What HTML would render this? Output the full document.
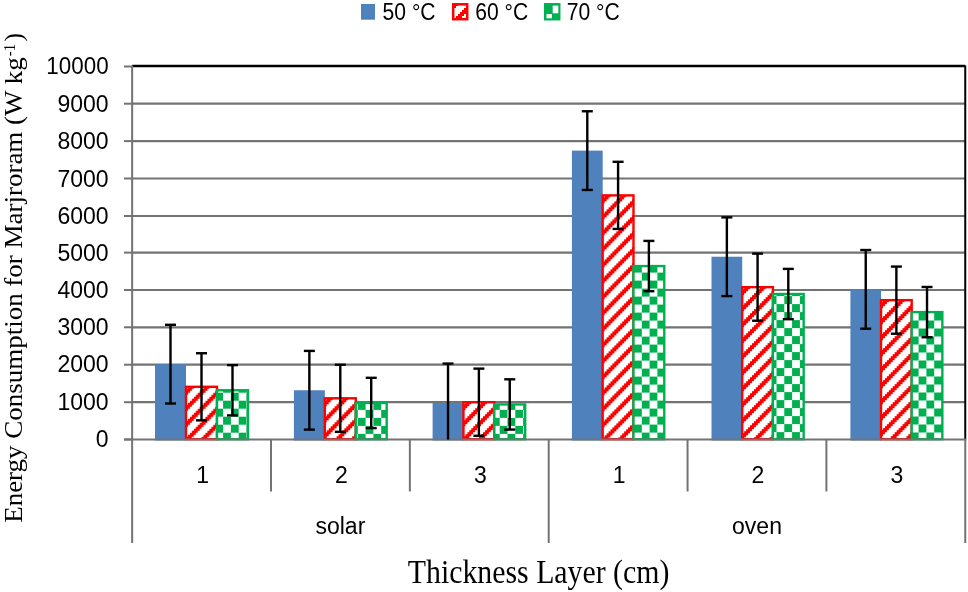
<!DOCTYPE html><html><head><meta charset="utf-8"><style>html,body{margin:0;padding:0;background:#fff;}svg{display:block;will-change:transform;}</style></head><body>
<svg width="968" height="592" viewBox="0 0 968 592">
<defs>
<pattern id="stripe" patternUnits="userSpaceOnUse" width="16" height="16"><rect width="16" height="16" fill="#fff"/><g fill="#ff0000" shape-rendering="crispEdges"><rect x="0" y="0" width="2" height="2"/><rect x="2" y="0" width="2" height="2"/><rect x="4" y="0" width="2" height="2"/><rect x="14" y="2" width="2" height="2"/><rect x="0" y="2" width="2" height="2"/><rect x="2" y="2" width="2" height="2"/><rect x="12" y="4" width="2" height="2"/><rect x="14" y="4" width="2" height="2"/><rect x="0" y="4" width="2" height="2"/><rect x="10" y="6" width="2" height="2"/><rect x="12" y="6" width="2" height="2"/><rect x="14" y="6" width="2" height="2"/><rect x="8" y="8" width="2" height="2"/><rect x="10" y="8" width="2" height="2"/><rect x="12" y="8" width="2" height="2"/><rect x="6" y="10" width="2" height="2"/><rect x="8" y="10" width="2" height="2"/><rect x="10" y="10" width="2" height="2"/><rect x="4" y="12" width="2" height="2"/><rect x="6" y="12" width="2" height="2"/><rect x="8" y="12" width="2" height="2"/><rect x="2" y="14" width="2" height="2"/><rect x="4" y="14" width="2" height="2"/><rect x="6" y="14" width="2" height="2"/></g></pattern>
<pattern id="check" patternUnits="userSpaceOnUse" width="16" height="16" patternTransform="translate(0,0.5)"><rect width="16" height="16" fill="#fff"/><g shape-rendering="crispEdges"><rect x="0" y="0" width="8" height="8" fill="#00b050"/><rect x="8" y="8" width="8" height="8" fill="#00b050"/></g></pattern>
</defs>
<rect width="968" height="592" fill="#fff"/>
<line x1="132.15" y1="103.7" x2="965.25" y2="103.7" stroke="#737373" stroke-width="2.2"/>
<line x1="132.15" y1="141.1" x2="965.25" y2="141.1" stroke="#737373" stroke-width="2.2"/>
<line x1="132.15" y1="178.5" x2="965.25" y2="178.5" stroke="#737373" stroke-width="2.2"/>
<line x1="132.15" y1="216.0" x2="965.25" y2="216.0" stroke="#737373" stroke-width="2.2"/>
<line x1="132.15" y1="252.6" x2="965.25" y2="252.6" stroke="#737373" stroke-width="2.2"/>
<line x1="132.15" y1="290.0" x2="965.25" y2="290.0" stroke="#737373" stroke-width="2.2"/>
<line x1="132.15" y1="327.3" x2="965.25" y2="327.3" stroke="#737373" stroke-width="2.2"/>
<line x1="132.15" y1="364.7" x2="965.25" y2="364.7" stroke="#737373" stroke-width="2.2"/>
<line x1="132.15" y1="402.2" x2="965.25" y2="402.2" stroke="#737373" stroke-width="2.2"/>
<line x1="124" y1="66.5" x2="132.15" y2="66.5" stroke="#737373" stroke-width="2"/>
<line x1="124" y1="103.7" x2="132.15" y2="103.7" stroke="#737373" stroke-width="2"/>
<line x1="124" y1="141.1" x2="132.15" y2="141.1" stroke="#737373" stroke-width="2"/>
<line x1="124" y1="178.5" x2="132.15" y2="178.5" stroke="#737373" stroke-width="2"/>
<line x1="124" y1="216.0" x2="132.15" y2="216.0" stroke="#737373" stroke-width="2"/>
<line x1="124" y1="252.6" x2="132.15" y2="252.6" stroke="#737373" stroke-width="2"/>
<line x1="124" y1="290.0" x2="132.15" y2="290.0" stroke="#737373" stroke-width="2"/>
<line x1="124" y1="327.3" x2="132.15" y2="327.3" stroke="#737373" stroke-width="2"/>
<line x1="124" y1="364.7" x2="132.15" y2="364.7" stroke="#737373" stroke-width="2"/>
<line x1="124" y1="402.2" x2="132.15" y2="402.2" stroke="#737373" stroke-width="2"/>
<line x1="124" y1="439.5" x2="132.15" y2="439.5" stroke="#737373" stroke-width="2"/>
<pattern id="st0" patternUnits="userSpaceOnUse" width="15.6" height="16.0" patternTransform="translate(186.00,386.80)"><rect width="15.6" height="16.0" fill="#fff"/><g fill="#ff0000"><rect x="1.95" y="0.00" width="1.97" height="2.0"/><rect x="3.90" y="0.00" width="1.97" height="2.0"/><rect x="5.85" y="0.00" width="1.97" height="2.0"/><rect x="0.00" y="2.00" width="1.97" height="2.0"/><rect x="1.95" y="2.00" width="1.97" height="2.0"/><rect x="3.90" y="2.00" width="1.97" height="2.0"/><rect x="13.65" y="4.00" width="1.97" height="2.0"/><rect x="0.00" y="4.00" width="1.97" height="2.0"/><rect x="1.95" y="4.00" width="1.97" height="2.0"/><rect x="11.70" y="6.00" width="1.97" height="2.0"/><rect x="13.65" y="6.00" width="1.97" height="2.0"/><rect x="0.00" y="6.00" width="1.97" height="2.0"/><rect x="9.75" y="8.00" width="1.97" height="2.0"/><rect x="11.70" y="8.00" width="1.97" height="2.0"/><rect x="13.65" y="8.00" width="1.97" height="2.0"/><rect x="7.80" y="10.00" width="1.97" height="2.0"/><rect x="9.75" y="10.00" width="1.97" height="2.0"/><rect x="11.70" y="10.00" width="1.97" height="2.0"/><rect x="5.85" y="12.00" width="1.97" height="2.0"/><rect x="7.80" y="12.00" width="1.97" height="2.0"/><rect x="9.75" y="12.00" width="1.97" height="2.0"/><rect x="3.90" y="14.00" width="1.97" height="2.0"/><rect x="5.85" y="14.00" width="1.97" height="2.0"/><rect x="7.80" y="14.00" width="1.97" height="2.0"/></g></pattern>
<pattern id="ck0" patternUnits="userSpaceOnUse" width="15.6" height="16" patternTransform="translate(215.30,392.70)"><rect width="15.6" height="16" fill="#fff"/><rect x="0" y="0" width="7.8" height="8" fill="#00b050"/><rect x="7.8" y="8" width="7.8" height="8" fill="#00b050"/></pattern>
<rect x="155.00" y="364.15" width="31.00" height="76.35" fill="#4f81bd"/>
<rect x="186.00" y="386.80" width="31.00" height="52.40" fill="url(#st0)" stroke="#ff0000" stroke-width="2.4"/>
<rect x="217.00" y="390.26" width="31.00" height="48.94" fill="url(#ck0)" stroke="#00b050" stroke-width="2.4"/>
<pattern id="st1" patternUnits="userSpaceOnUse" width="15.6" height="16.0" patternTransform="translate(324.83,398.28)"><rect width="15.6" height="16.0" fill="#fff"/><g fill="#ff0000"><rect x="1.95" y="0.00" width="1.97" height="2.0"/><rect x="3.90" y="0.00" width="1.97" height="2.0"/><rect x="5.85" y="0.00" width="1.97" height="2.0"/><rect x="0.00" y="2.00" width="1.97" height="2.0"/><rect x="1.95" y="2.00" width="1.97" height="2.0"/><rect x="3.90" y="2.00" width="1.97" height="2.0"/><rect x="13.65" y="4.00" width="1.97" height="2.0"/><rect x="0.00" y="4.00" width="1.97" height="2.0"/><rect x="1.95" y="4.00" width="1.97" height="2.0"/><rect x="11.70" y="6.00" width="1.97" height="2.0"/><rect x="13.65" y="6.00" width="1.97" height="2.0"/><rect x="0.00" y="6.00" width="1.97" height="2.0"/><rect x="9.75" y="8.00" width="1.97" height="2.0"/><rect x="11.70" y="8.00" width="1.97" height="2.0"/><rect x="13.65" y="8.00" width="1.97" height="2.0"/><rect x="7.80" y="10.00" width="1.97" height="2.0"/><rect x="9.75" y="10.00" width="1.97" height="2.0"/><rect x="11.70" y="10.00" width="1.97" height="2.0"/><rect x="5.85" y="12.00" width="1.97" height="2.0"/><rect x="7.80" y="12.00" width="1.97" height="2.0"/><rect x="9.75" y="12.00" width="1.97" height="2.0"/><rect x="3.90" y="14.00" width="1.97" height="2.0"/><rect x="5.85" y="14.00" width="1.97" height="2.0"/><rect x="7.80" y="14.00" width="1.97" height="2.0"/></g></pattern>
<pattern id="ck1" patternUnits="userSpaceOnUse" width="15.6" height="16" patternTransform="translate(357.80,401.90)"><rect width="15.6" height="16" fill="#fff"/><rect x="0" y="0" width="7.8" height="8" fill="#00b050"/><rect x="7.8" y="8" width="7.8" height="8" fill="#00b050"/></pattern>
<rect x="293.90" y="390.26" width="30.93" height="50.24" fill="#4f81bd"/>
<rect x="324.83" y="398.28" width="30.93" height="40.92" fill="url(#st1)" stroke="#ff0000" stroke-width="2.4"/>
<rect x="355.76" y="402.95" width="30.93" height="36.25" fill="url(#ck1)" stroke="#00b050" stroke-width="2.4"/>
<pattern id="st2" patternUnits="userSpaceOnUse" width="15.6" height="16.0" patternTransform="translate(463.46,402.20)"><rect width="15.6" height="16.0" fill="#fff"/><g fill="#ff0000"><rect x="1.95" y="0.00" width="1.97" height="2.0"/><rect x="3.90" y="0.00" width="1.97" height="2.0"/><rect x="5.85" y="0.00" width="1.97" height="2.0"/><rect x="0.00" y="2.00" width="1.97" height="2.0"/><rect x="1.95" y="2.00" width="1.97" height="2.0"/><rect x="3.90" y="2.00" width="1.97" height="2.0"/><rect x="13.65" y="4.00" width="1.97" height="2.0"/><rect x="0.00" y="4.00" width="1.97" height="2.0"/><rect x="1.95" y="4.00" width="1.97" height="2.0"/><rect x="11.70" y="6.00" width="1.97" height="2.0"/><rect x="13.65" y="6.00" width="1.97" height="2.0"/><rect x="0.00" y="6.00" width="1.97" height="2.0"/><rect x="9.75" y="8.00" width="1.97" height="2.0"/><rect x="11.70" y="8.00" width="1.97" height="2.0"/><rect x="13.65" y="8.00" width="1.97" height="2.0"/><rect x="7.80" y="10.00" width="1.97" height="2.0"/><rect x="9.75" y="10.00" width="1.97" height="2.0"/><rect x="11.70" y="10.00" width="1.97" height="2.0"/><rect x="5.85" y="12.00" width="1.97" height="2.0"/><rect x="7.80" y="12.00" width="1.97" height="2.0"/><rect x="9.75" y="12.00" width="1.97" height="2.0"/><rect x="3.90" y="14.00" width="1.97" height="2.0"/><rect x="5.85" y="14.00" width="1.97" height="2.0"/><rect x="7.80" y="14.00" width="1.97" height="2.0"/></g></pattern>
<pattern id="ck2" patternUnits="userSpaceOnUse" width="15.6" height="16" patternTransform="translate(491.90,401.90)"><rect width="15.6" height="16" fill="#fff"/><rect x="0" y="0" width="7.8" height="8" fill="#00b050"/><rect x="7.8" y="8" width="7.8" height="8" fill="#00b050"/></pattern>
<rect x="432.60" y="402.95" width="30.86" height="37.55" fill="#4f81bd"/>
<rect x="463.46" y="402.20" width="30.86" height="37.00" fill="url(#st2)" stroke="#ff0000" stroke-width="2.4"/>
<rect x="494.32" y="404.44" width="30.86" height="34.76" fill="url(#ck2)" stroke="#00b050" stroke-width="2.4"/>
<pattern id="st3" patternUnits="userSpaceOnUse" width="15.6" height="16.0" patternTransform="translate(602.69,195.37)"><rect width="15.6" height="16.0" fill="#fff"/><g fill="#ff0000"><rect x="1.95" y="0.00" width="1.97" height="2.0"/><rect x="3.90" y="0.00" width="1.97" height="2.0"/><rect x="5.85" y="0.00" width="1.97" height="2.0"/><rect x="0.00" y="2.00" width="1.97" height="2.0"/><rect x="1.95" y="2.00" width="1.97" height="2.0"/><rect x="3.90" y="2.00" width="1.97" height="2.0"/><rect x="13.65" y="4.00" width="1.97" height="2.0"/><rect x="0.00" y="4.00" width="1.97" height="2.0"/><rect x="1.95" y="4.00" width="1.97" height="2.0"/><rect x="11.70" y="6.00" width="1.97" height="2.0"/><rect x="13.65" y="6.00" width="1.97" height="2.0"/><rect x="0.00" y="6.00" width="1.97" height="2.0"/><rect x="9.75" y="8.00" width="1.97" height="2.0"/><rect x="11.70" y="8.00" width="1.97" height="2.0"/><rect x="13.65" y="8.00" width="1.97" height="2.0"/><rect x="7.80" y="10.00" width="1.97" height="2.0"/><rect x="9.75" y="10.00" width="1.97" height="2.0"/><rect x="11.70" y="10.00" width="1.97" height="2.0"/><rect x="5.85" y="12.00" width="1.97" height="2.0"/><rect x="7.80" y="12.00" width="1.97" height="2.0"/><rect x="9.75" y="12.00" width="1.97" height="2.0"/><rect x="3.90" y="14.00" width="1.97" height="2.0"/><rect x="5.85" y="14.00" width="1.97" height="2.0"/><rect x="7.80" y="14.00" width="1.97" height="2.0"/></g></pattern>
<pattern id="ck3" patternUnits="userSpaceOnUse" width="15.6" height="16" patternTransform="translate(634.00,264.60)"><rect width="15.6" height="16" fill="#fff"/><rect x="0" y="0" width="7.8" height="8" fill="#00b050"/><rect x="7.8" y="8" width="7.8" height="8" fill="#00b050"/></pattern>
<rect x="571.90" y="150.61" width="30.79" height="289.89" fill="#4f81bd"/>
<rect x="602.69" y="195.37" width="30.79" height="243.83" fill="url(#st3)" stroke="#ff0000" stroke-width="2.4"/>
<rect x="633.48" y="266.06" width="30.79" height="173.14" fill="url(#ck3)" stroke="#00b050" stroke-width="2.4"/>
<pattern id="st4" patternUnits="userSpaceOnUse" width="15.6" height="16.0" patternTransform="translate(742.22,287.17)"><rect width="15.6" height="16.0" fill="#fff"/><g fill="#ff0000"><rect x="1.95" y="0.00" width="1.97" height="2.0"/><rect x="3.90" y="0.00" width="1.97" height="2.0"/><rect x="5.85" y="0.00" width="1.97" height="2.0"/><rect x="0.00" y="2.00" width="1.97" height="2.0"/><rect x="1.95" y="2.00" width="1.97" height="2.0"/><rect x="3.90" y="2.00" width="1.97" height="2.0"/><rect x="13.65" y="4.00" width="1.97" height="2.0"/><rect x="0.00" y="4.00" width="1.97" height="2.0"/><rect x="1.95" y="4.00" width="1.97" height="2.0"/><rect x="11.70" y="6.00" width="1.97" height="2.0"/><rect x="13.65" y="6.00" width="1.97" height="2.0"/><rect x="0.00" y="6.00" width="1.97" height="2.0"/><rect x="9.75" y="8.00" width="1.97" height="2.0"/><rect x="11.70" y="8.00" width="1.97" height="2.0"/><rect x="13.65" y="8.00" width="1.97" height="2.0"/><rect x="7.80" y="10.00" width="1.97" height="2.0"/><rect x="9.75" y="10.00" width="1.97" height="2.0"/><rect x="11.70" y="10.00" width="1.97" height="2.0"/><rect x="5.85" y="12.00" width="1.97" height="2.0"/><rect x="7.80" y="12.00" width="1.97" height="2.0"/><rect x="9.75" y="12.00" width="1.97" height="2.0"/><rect x="3.90" y="14.00" width="1.97" height="2.0"/><rect x="5.85" y="14.00" width="1.97" height="2.0"/><rect x="7.80" y="14.00" width="1.97" height="2.0"/></g></pattern>
<pattern id="ck4" patternUnits="userSpaceOnUse" width="15.6" height="16" patternTransform="translate(768.70,296.10)"><rect width="15.6" height="16" fill="#fff"/><rect x="0" y="0" width="7.8" height="8" fill="#00b050"/><rect x="7.8" y="8" width="7.8" height="8" fill="#00b050"/></pattern>
<rect x="711.50" y="256.73" width="30.72" height="183.77" fill="#4f81bd"/>
<rect x="742.22" y="287.17" width="30.72" height="152.03" fill="url(#st4)" stroke="#ff0000" stroke-width="2.4"/>
<rect x="772.94" y="294.03" width="30.72" height="145.17" fill="url(#ck4)" stroke="#00b050" stroke-width="2.4"/>
<pattern id="st5" patternUnits="userSpaceOnUse" width="15.6" height="16.0" patternTransform="translate(881.05,300.15)"><rect width="15.6" height="16.0" fill="#fff"/><g fill="#ff0000"><rect x="1.95" y="0.00" width="1.97" height="2.0"/><rect x="3.90" y="0.00" width="1.97" height="2.0"/><rect x="5.85" y="0.00" width="1.97" height="2.0"/><rect x="0.00" y="2.00" width="1.97" height="2.0"/><rect x="1.95" y="2.00" width="1.97" height="2.0"/><rect x="3.90" y="2.00" width="1.97" height="2.0"/><rect x="13.65" y="4.00" width="1.97" height="2.0"/><rect x="0.00" y="4.00" width="1.97" height="2.0"/><rect x="1.95" y="4.00" width="1.97" height="2.0"/><rect x="11.70" y="6.00" width="1.97" height="2.0"/><rect x="13.65" y="6.00" width="1.97" height="2.0"/><rect x="0.00" y="6.00" width="1.97" height="2.0"/><rect x="9.75" y="8.00" width="1.97" height="2.0"/><rect x="11.70" y="8.00" width="1.97" height="2.0"/><rect x="13.65" y="8.00" width="1.97" height="2.0"/><rect x="7.80" y="10.00" width="1.97" height="2.0"/><rect x="9.75" y="10.00" width="1.97" height="2.0"/><rect x="11.70" y="10.00" width="1.97" height="2.0"/><rect x="5.85" y="12.00" width="1.97" height="2.0"/><rect x="7.80" y="12.00" width="1.97" height="2.0"/><rect x="9.75" y="12.00" width="1.97" height="2.0"/><rect x="3.90" y="14.00" width="1.97" height="2.0"/><rect x="5.85" y="14.00" width="1.97" height="2.0"/><rect x="7.80" y="14.00" width="1.97" height="2.0"/></g></pattern>
<pattern id="ck5" patternUnits="userSpaceOnUse" width="15.6" height="16" patternTransform="translate(910.80,320.50)"><rect width="15.6" height="16" fill="#fff"/><rect x="0" y="0" width="7.8" height="8" fill="#00b050"/><rect x="7.8" y="8" width="7.8" height="8" fill="#00b050"/></pattern>
<rect x="850.40" y="289.37" width="30.65" height="151.13" fill="#4f81bd"/>
<rect x="881.05" y="300.15" width="30.65" height="139.05" fill="url(#st5)" stroke="#ff0000" stroke-width="2.4"/>
<rect x="911.70" y="312.12" width="30.65" height="127.08" fill="url(#ck5)" stroke="#00b050" stroke-width="2.4"/>
<line x1="132.15" y1="66.0" x2="965.25" y2="66.0" stroke="#000" stroke-width="2.6"/>
<line x1="965.25" y1="65.5" x2="965.25" y2="439.5" stroke="#000" stroke-width="2"/>
<line x1="124" y1="439.5" x2="966.25" y2="439.5" stroke="#737373" stroke-width="2"/>
<line x1="132.15" y1="65.5" x2="132.15" y2="543" stroke="#737373" stroke-width="2"/>
<line x1="271.00" y1="439.5" x2="271.00" y2="491.5" stroke="#737373" stroke-width="2"/>
<line x1="409.85" y1="439.5" x2="409.85" y2="491.5" stroke="#737373" stroke-width="2"/>
<line x1="548.70" y1="439.5" x2="548.70" y2="543" stroke="#737373" stroke-width="2"/>
<line x1="687.55" y1="439.5" x2="687.55" y2="491.5" stroke="#737373" stroke-width="2"/>
<line x1="826.40" y1="439.5" x2="826.40" y2="491.5" stroke="#737373" stroke-width="2"/>
<line x1="965.25" y1="439.5" x2="965.25" y2="543" stroke="#737373" stroke-width="2"/>
<line x1="170.50" y1="324.80" x2="170.50" y2="403.51" stroke="#000" stroke-width="2.4"/>
<line x1="165.00" y1="324.80" x2="176.00" y2="324.80" stroke="#000" stroke-width="2.4"/>
<line x1="165.00" y1="403.51" x2="176.00" y2="403.51" stroke="#000" stroke-width="2.4"/>
<line x1="201.50" y1="353.23" x2="201.50" y2="420.37" stroke="#000" stroke-width="2.4"/>
<line x1="196.00" y1="353.23" x2="207.00" y2="353.23" stroke="#000" stroke-width="2.4"/>
<line x1="196.00" y1="420.37" x2="207.00" y2="420.37" stroke="#000" stroke-width="2.4"/>
<line x1="232.50" y1="365.12" x2="232.50" y2="415.40" stroke="#000" stroke-width="2.4"/>
<line x1="227.00" y1="365.12" x2="238.00" y2="365.12" stroke="#000" stroke-width="2.4"/>
<line x1="227.00" y1="415.40" x2="238.00" y2="415.40" stroke="#000" stroke-width="2.4"/>
<line x1="309.36" y1="350.91" x2="309.36" y2="429.62" stroke="#000" stroke-width="2.4"/>
<line x1="303.86" y1="350.91" x2="314.86" y2="350.91" stroke="#000" stroke-width="2.4"/>
<line x1="303.86" y1="429.62" x2="314.86" y2="429.62" stroke="#000" stroke-width="2.4"/>
<line x1="340.29" y1="364.71" x2="340.29" y2="431.85" stroke="#000" stroke-width="2.4"/>
<line x1="334.79" y1="364.71" x2="345.79" y2="364.71" stroke="#000" stroke-width="2.4"/>
<line x1="334.79" y1="431.85" x2="345.79" y2="431.85" stroke="#000" stroke-width="2.4"/>
<line x1="371.22" y1="377.81" x2="371.22" y2="428.09" stroke="#000" stroke-width="2.4"/>
<line x1="365.72" y1="377.81" x2="376.72" y2="377.81" stroke="#000" stroke-width="2.4"/>
<line x1="365.72" y1="428.09" x2="376.72" y2="428.09" stroke="#000" stroke-width="2.4"/>
<line x1="448.03" y1="363.59" x2="448.03" y2="439.50" stroke="#000" stroke-width="2.4"/>
<line x1="442.53" y1="363.59" x2="453.53" y2="363.59" stroke="#000" stroke-width="2.4"/>
<line x1="478.89" y1="368.63" x2="478.89" y2="435.77" stroke="#000" stroke-width="2.4"/>
<line x1="473.39" y1="368.63" x2="484.39" y2="368.63" stroke="#000" stroke-width="2.4"/>
<line x1="473.39" y1="435.77" x2="484.39" y2="435.77" stroke="#000" stroke-width="2.4"/>
<line x1="509.75" y1="379.30" x2="509.75" y2="429.58" stroke="#000" stroke-width="2.4"/>
<line x1="504.25" y1="379.30" x2="515.25" y2="379.30" stroke="#000" stroke-width="2.4"/>
<line x1="504.25" y1="429.58" x2="515.25" y2="429.58" stroke="#000" stroke-width="2.4"/>
<line x1="587.29" y1="111.26" x2="587.29" y2="189.96" stroke="#000" stroke-width="2.4"/>
<line x1="581.79" y1="111.26" x2="592.79" y2="111.26" stroke="#000" stroke-width="2.4"/>
<line x1="581.79" y1="189.96" x2="592.79" y2="189.96" stroke="#000" stroke-width="2.4"/>
<line x1="618.08" y1="161.80" x2="618.08" y2="228.94" stroke="#000" stroke-width="2.4"/>
<line x1="612.58" y1="161.80" x2="623.58" y2="161.80" stroke="#000" stroke-width="2.4"/>
<line x1="612.58" y1="228.94" x2="623.58" y2="228.94" stroke="#000" stroke-width="2.4"/>
<line x1="648.88" y1="240.91" x2="648.88" y2="291.20" stroke="#000" stroke-width="2.4"/>
<line x1="643.38" y1="240.91" x2="654.38" y2="240.91" stroke="#000" stroke-width="2.4"/>
<line x1="643.38" y1="291.20" x2="654.38" y2="291.20" stroke="#000" stroke-width="2.4"/>
<line x1="726.86" y1="217.38" x2="726.86" y2="296.08" stroke="#000" stroke-width="2.4"/>
<line x1="721.36" y1="217.38" x2="732.36" y2="217.38" stroke="#000" stroke-width="2.4"/>
<line x1="721.36" y1="296.08" x2="732.36" y2="296.08" stroke="#000" stroke-width="2.4"/>
<line x1="757.58" y1="253.60" x2="757.58" y2="320.74" stroke="#000" stroke-width="2.4"/>
<line x1="752.08" y1="253.60" x2="763.08" y2="253.60" stroke="#000" stroke-width="2.4"/>
<line x1="752.08" y1="320.74" x2="763.08" y2="320.74" stroke="#000" stroke-width="2.4"/>
<line x1="788.30" y1="268.89" x2="788.30" y2="319.17" stroke="#000" stroke-width="2.4"/>
<line x1="782.80" y1="268.89" x2="793.80" y2="268.89" stroke="#000" stroke-width="2.4"/>
<line x1="782.80" y1="319.17" x2="793.80" y2="319.17" stroke="#000" stroke-width="2.4"/>
<line x1="865.73" y1="250.02" x2="865.73" y2="328.72" stroke="#000" stroke-width="2.4"/>
<line x1="860.23" y1="250.02" x2="871.23" y2="250.02" stroke="#000" stroke-width="2.4"/>
<line x1="860.23" y1="328.72" x2="871.23" y2="328.72" stroke="#000" stroke-width="2.4"/>
<line x1="896.38" y1="266.58" x2="896.38" y2="333.72" stroke="#000" stroke-width="2.4"/>
<line x1="890.88" y1="266.58" x2="901.88" y2="266.58" stroke="#000" stroke-width="2.4"/>
<line x1="890.88" y1="333.72" x2="901.88" y2="333.72" stroke="#000" stroke-width="2.4"/>
<line x1="927.02" y1="286.98" x2="927.02" y2="337.26" stroke="#000" stroke-width="2.4"/>
<line x1="921.52" y1="286.98" x2="932.52" y2="286.98" stroke="#000" stroke-width="2.4"/>
<line x1="921.52" y1="337.26" x2="932.52" y2="337.26" stroke="#000" stroke-width="2.4"/>
<text x="108.6" y="74" text-anchor="end" font-family="Liberation Sans, sans-serif" font-size="23" fill="#000" textLength="62.3" lengthAdjust="spacingAndGlyphs">10000</text>
<text x="108.6" y="112" text-anchor="end" font-family="Liberation Sans, sans-serif" font-size="23" fill="#000">9000</text>
<text x="108.6" y="149" text-anchor="end" font-family="Liberation Sans, sans-serif" font-size="23" fill="#000">8000</text>
<text x="108.6" y="187" text-anchor="end" font-family="Liberation Sans, sans-serif" font-size="23" fill="#000">7000</text>
<text x="108.6" y="224" text-anchor="end" font-family="Liberation Sans, sans-serif" font-size="23" fill="#000">6000</text>
<text x="108.6" y="261" text-anchor="end" font-family="Liberation Sans, sans-serif" font-size="23" fill="#000">5000</text>
<text x="108.6" y="298" text-anchor="end" font-family="Liberation Sans, sans-serif" font-size="23" fill="#000">4000</text>
<text x="108.6" y="335" text-anchor="end" font-family="Liberation Sans, sans-serif" font-size="23" fill="#000">3000</text>
<text x="108.6" y="372" text-anchor="end" font-family="Liberation Sans, sans-serif" font-size="23" fill="#000">2000</text>
<text x="108.6" y="410" text-anchor="end" font-family="Liberation Sans, sans-serif" font-size="23" fill="#000">1000</text>
<text x="108.6" y="447" text-anchor="end" font-family="Liberation Sans, sans-serif" font-size="23" fill="#000">0</text>
<text x="202.6" y="482.6" text-anchor="middle" font-family="Liberation Sans, sans-serif" font-size="23" fill="#000">1</text>
<text x="341.4" y="482.6" text-anchor="middle" font-family="Liberation Sans, sans-serif" font-size="23" fill="#000">2</text>
<text x="480.3" y="482.6" text-anchor="middle" font-family="Liberation Sans, sans-serif" font-size="23" fill="#000">3</text>
<text x="619.1" y="482.6" text-anchor="middle" font-family="Liberation Sans, sans-serif" font-size="23" fill="#000">1</text>
<text x="758.0" y="482.6" text-anchor="middle" font-family="Liberation Sans, sans-serif" font-size="23" fill="#000">2</text>
<text x="896.8" y="482.6" text-anchor="middle" font-family="Liberation Sans, sans-serif" font-size="23" fill="#000">3</text>
<text x="340.4" y="533.9" text-anchor="middle" font-family="Liberation Sans, sans-serif" font-size="23" fill="#000">solar</text>
<text x="757.0" y="533.9" text-anchor="middle" font-family="Liberation Sans, sans-serif" font-size="23" fill="#000">oven</text>
<rect x="361" y="4" width="14" height="15.7" fill="#4f81bd"/>
<pattern id="stripeL" patternUnits="userSpaceOnUse" width="16" height="16" patternTransform="translate(454,2)"><rect width="16" height="16" fill="#fff"/><g fill="#ff0000" shape-rendering="crispEdges"><rect x="0" y="0" width="2" height="2"/><rect x="2" y="0" width="2" height="2"/><rect x="4" y="0" width="2" height="2"/><rect x="14" y="2" width="2" height="2"/><rect x="0" y="2" width="2" height="2"/><rect x="2" y="2" width="2" height="2"/><rect x="12" y="4" width="2" height="2"/><rect x="14" y="4" width="2" height="2"/><rect x="0" y="4" width="2" height="2"/><rect x="10" y="6" width="2" height="2"/><rect x="12" y="6" width="2" height="2"/><rect x="14" y="6" width="2" height="2"/><rect x="8" y="8" width="2" height="2"/><rect x="10" y="8" width="2" height="2"/><rect x="12" y="8" width="2" height="2"/><rect x="6" y="10" width="2" height="2"/><rect x="8" y="10" width="2" height="2"/><rect x="10" y="10" width="2" height="2"/><rect x="4" y="12" width="2" height="2"/><rect x="6" y="12" width="2" height="2"/><rect x="8" y="12" width="2" height="2"/><rect x="2" y="14" width="2" height="2"/><rect x="4" y="14" width="2" height="2"/><rect x="6" y="14" width="2" height="2"/></g></pattern>
<rect x="453.2" y="4.3" width="14" height="14.9" fill="url(#stripeL)" stroke="#ff0000" stroke-width="2.5"/>
<rect x="545.2" y="4.3" width="14" height="14.9" fill="#00b050" stroke="#00b050" stroke-width="2.5"/>
<rect x="552.7" y="5.6" width="5.6" height="7.7" fill="#fff"/>
<rect x="546.5" y="14" width="5.5" height="4.3" fill="#fff"/>
<text x="382.6" y="19.8" font-family="Liberation Sans, sans-serif" font-size="23" fill="#000" textLength="53" lengthAdjust="spacingAndGlyphs">50 °C</text>
<text x="475.3" y="19.8" font-family="Liberation Sans, sans-serif" font-size="23" fill="#000" textLength="53" lengthAdjust="spacingAndGlyphs">60 °C</text>
<text x="566.7" y="19.8" font-family="Liberation Sans, sans-serif" font-size="23" fill="#000" textLength="53" lengthAdjust="spacingAndGlyphs">70 °C</text>
<text x="407.8" y="583.2" font-family="Liberation Serif, serif" font-size="33.5" fill="#000" textLength="261.6" lengthAdjust="spacingAndGlyphs">Thickness Layer (cm)</text>
<g transform="translate(22.2,522.8) rotate(-90)"><text x="0" y="0" font-family="Liberation Serif, serif" font-size="25.5" fill="#000" textLength="465.5" lengthAdjust="spacingAndGlyphs">Energy Consumption for Marjroram (W kg</text><text x="466.5" y="-7.1" font-family="Liberation Serif, serif" font-size="17.6" fill="#000" textLength="12.5" lengthAdjust="spacingAndGlyphs">-1</text><text x="481.2" y="0" font-family="Liberation Serif, serif" font-size="25.5" fill="#000">)</text></g>
</svg></body></html>
